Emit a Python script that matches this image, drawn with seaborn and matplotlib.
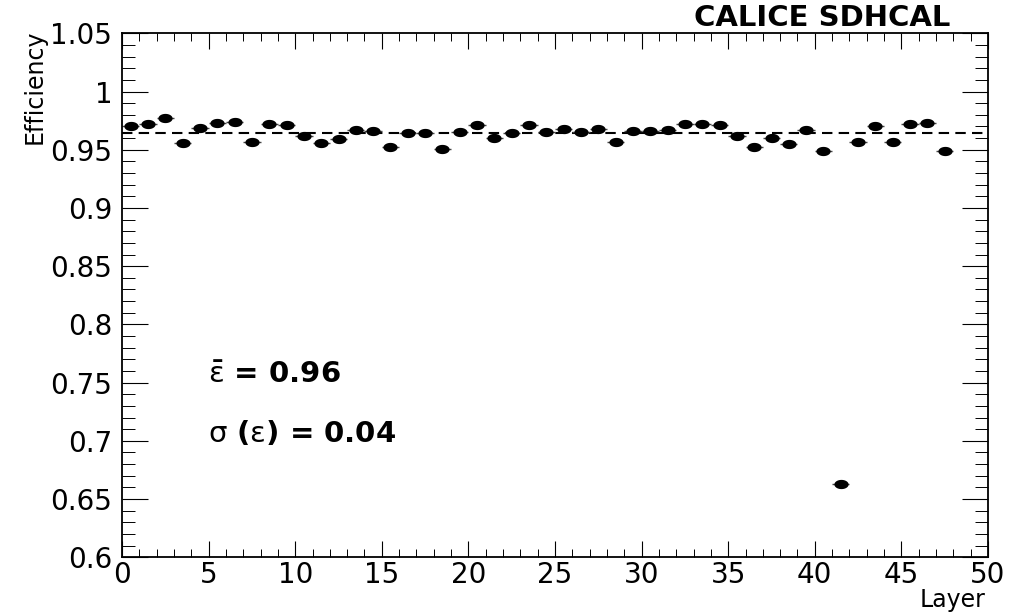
import numpy as np
import pandas as pd
import matplotlib
matplotlib.use("Agg")
import matplotlib.pyplot as plt
from matplotlib.ticker import MultipleLocator
from matplotlib.path import Path
import seaborn as sns

# ---- data -------------------------------------------------------------
layers = list(range(48))  # layer index; points drawn at bin centres
efficiency = [0.970, 0.972, 0.977, 0.956, 0.969, 0.973, 0.974, 0.957,
              0.972, 0.971, 0.962, 0.956, 0.959, 0.967, 0.966, 0.952,
              0.964, 0.964, 0.951, 0.965, 0.971, 0.960, 0.964, 0.971,
              0.965, 0.968, 0.965, 0.968, 0.957, 0.966, 0.966, 0.967,
              0.972, 0.972, 0.971, 0.962, 0.952, 0.960, 0.955, 0.967,
              0.949, 0.663, 0.957, 0.970, 0.957, 0.972, 0.973, 0.949]
mean_eff = 0.9646
xticks = [0, 5, 10, 15, 20, 25, 30, 35, 40, 45, 50]
yticks = [0.6, 0.65, 0.7, 0.75, 0.8, 0.85, 0.9, 0.95, 1.0, 1.05]
ytick_labels = ["0.6", "0.65", "0.7", "0.75", "0.8", "0.85", "0.9", "0.95", "1", "1.05"]
title_text = "CALICE SDHCAL"
mean_text = r"$\bar{\mathrm{\varepsilon}}$ = 0.96"
sigma_text = r"$\mathrm{\sigma}$ ($\mathrm{\varepsilon}$) = 0.04"

df = pd.DataFrame({"layer": np.array(layers) + 0.5, "eff": efficiency})

# ---- style ------------------------------------------------------------
sns.set_theme(style="ticks")
plt.rcParams["font.family"] = ["DejaVu Sans"]
plt.rcParams["mathtext.fontset"] = "dejavusans"
plt.rcParams["mathtext.default"] = "regular"
plt.rcParams["text.color"] = "black"
plt.rcParams["xtick.labelcolor"] = "black"
plt.rcParams["ytick.labelcolor"] = "black"

fig = plt.figure(figsize=(10.31, 6.16), dpi=100)
W, H = 1031, 616
L, R, T, B = 122, 988, 33.3, 557.3
ax = fig.add_axes([L / W, 1 - B / H, (R - L) / W, (B - T) / H])

# horizontal bin-width bars
ax.errorbar(df["layer"], df["eff"], xerr=0.5, fmt="none",
            ecolor="#444444", elinewidth=1.0, capsize=0, zorder=2)

# elliptical marker (reference is horizontally stretched)
t = np.linspace(0, 2 * np.pi, 40)
ell = Path(np.column_stack([np.cos(t), 0.65 * np.sin(t)]), closed=True)
sns.scatterplot(data=df, x="layer", y="eff", marker=ell, s=105,
                color="black", edgecolor="black", linewidth=0, ax=ax,
                zorder=3, legend=False)

ax.axhline(mean_eff, color="black", lw=1.5, ls=(0, (5, 3)), zorder=1)

ax.set_xlim(0, 50)
ax.set_ylim(0.6, 1.05)
ax.set_xticks(xticks)
ax.set_xticklabels([str(v) for v in xticks])
ax.set_yticks(yticks)
ax.set_yticklabels(ytick_labels)
ax.xaxis.set_minor_locator(MultipleLocator(1))
ax.yaxis.set_minor_locator(MultipleLocator(0.01))

ax.tick_params(axis="both", which="both", direction="in",
               top=True, right=True, color="black", labelsize=20,
               labelcolor="black")
ax.tick_params(axis="x", which="major", length=11.3, width=0.8, pad=3)
ax.tick_params(axis="x", which="minor", length=5.7, width=0.7)
ax.tick_params(axis="y", which="major", length=18.7, width=0.8, pad=7)
ax.tick_params(axis="y", which="minor", length=9.4, width=0.7)
for s in ax.spines.values():
    s.set_linewidth(1.3)
    s.set_color("black")
ax.set_xlabel("")
ax.set_ylabel("")

# axis titles (ROOT style)
fig.text(985 / W, 1 - 600 / H, "Layer", ha="right", va="center",
         fontsize=17, color="black")
fig.text(35 / W, 1 - 30 / H, "Efficiency", rotation=90, ha="center",
         va="top", fontsize=17, color="black")
fig.text(950 / W, 1 - 18 / H, title_text, ha="right", va="center",
         fontsize=21, fontweight="bold", color="black")

ax.text(0.099, 0.348, mean_text, transform=ax.transAxes, ha="left",
        va="center", fontsize=21, fontweight="bold", color="black")
ax.text(0.099, 0.237, sigma_text, transform=ax.transAxes, ha="left",
        va="center", fontsize=21, fontweight="bold", color="black")

fig.savefig("out.png", dpi=100)
